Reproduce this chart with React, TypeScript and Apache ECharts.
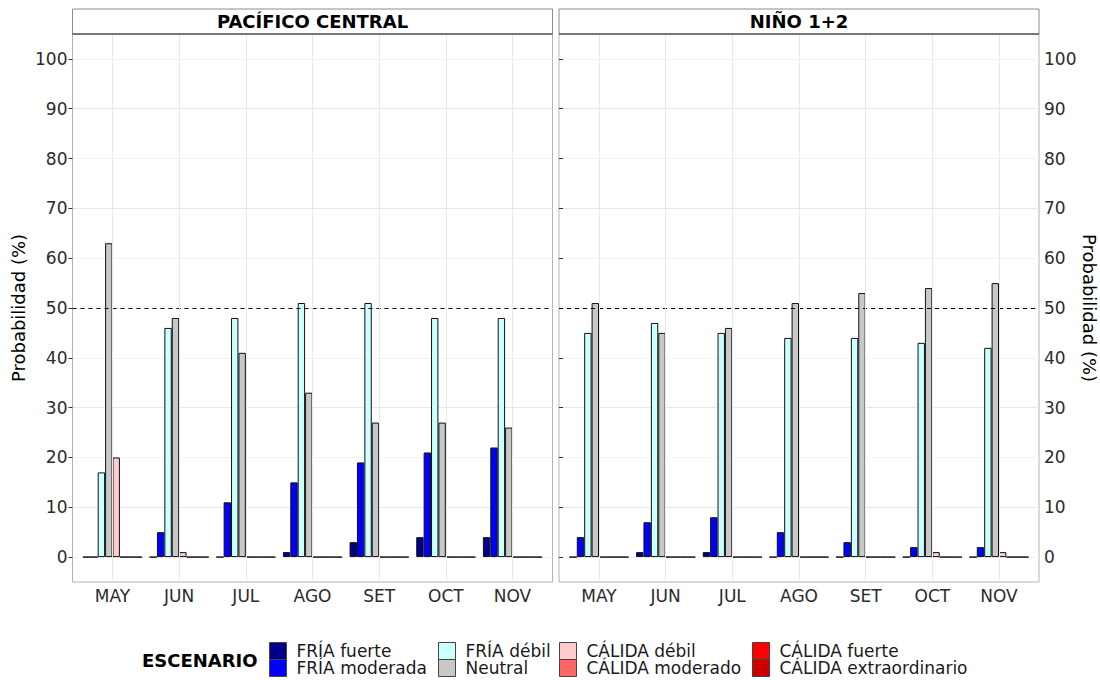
import React, { useEffect, useRef } from "react";
import * as echarts from "echarts";

const months = ["MAY", "JUN", "JUL", "AGO", "SET", "OCT", "NOV"];
const scenarios = [
  "FRÍA fuerte",
  "FRÍA moderada",
  "FRÍA débil",
  "Neutral",
  "CÁLIDA débil",
  "CÁLIDA moderado",
  "CÁLIDA fuerte",
  "CÁLIDA extraordinario",
];
const scenarioColors = ["#00008B", "#0000FF", "#CCFFFF", "#C8C8C8", "#FFCCCC", "#FF6666", "#FF0000", "#CC0000"];
const panelTitles = ["PACÍFICO CENTRAL", "NIÑO 1+2"];
const yTicks = [0, 10, 20, 30, 40, 50, 60, 70, 80, 90, 100];
const threshold = 50;

// PACÍFICO CENTRAL
const centralFriaFuerte = [0, 0, 0, 1, 3, 4, 4];
const centralFriaModerada = [0, 5, 11, 15, 19, 21, 22];
const centralFriaDebil = [17, 46, 48, 51, 51, 48, 48];
const centralNeutral = [63, 48, 41, 33, 27, 27, 26];
const centralCalidaDebil = [20, 1, 0, 0, 0, 0, 0];
const centralCalidaModerado = [0, 0, 0, 0, 0, 0, 0];
const centralCalidaFuerte = [0, 0, 0, 0, 0, 0, 0];
const centralCalidaExtra = [0, 0, 0, 0, 0, 0, 0];

// NIÑO 1+2
const ninoFriaFuerte = [0, 1, 1, 0, 0, 0, 0];
const ninoFriaModerada = [4, 7, 8, 5, 3, 2, 2];
const ninoFriaDebil = [45, 47, 45, 44, 44, 43, 42];
const ninoNeutral = [51, 45, 46, 51, 53, 54, 55];
const ninoCalidaDebil = [0, 0, 0, 0, 0, 1, 1];
const ninoCalidaModerado = [0, 0, 0, 0, 0, 0, 0];
const ninoCalidaFuerte = [0, 0, 0, 0, 0, 0, 0];
const ninoCalidaExtra = [0, 0, 0, 0, 0, 0, 0];

const centralData = [
  centralFriaFuerte, centralFriaModerada, centralFriaDebil, centralNeutral,
  centralCalidaDebil, centralCalidaModerado, centralCalidaFuerte, centralCalidaExtra,
];
const ninoData = [
  ninoFriaFuerte, ninoFriaModerada, ninoFriaDebil, ninoNeutral,
  ninoCalidaDebil, ninoCalidaModerado, ninoCalidaFuerte, ninoCalidaExtra,
];

const FONT = "DejaVu Sans";

export default function App() {
  const ref = useRef<HTMLDivElement>(null);
  useEffect(() => {
    if (!ref.current) return;
    const chart = echarts.init(ref.current, null, { renderer: "svg" });

    const panelTop = 34;
    const panelBottom = 582;
    const panels = [
      { left: 72.5, width: 480 },
      { left: 559, width: 480 },
    ];
    const grids: any[] = [];
    panels.forEach((p) => {
      const band = p.width / 7.2;
      grids.push({
        left: p.left, top: panelTop, width: p.width, height: panelBottom - panelTop,
        show: true, borderColor: "#b3b3b3", borderWidth: 1, backgroundColor: "#ffffff",
      });
      grids.push({
        left: p.left + band * 0.1, top: panelTop, width: band * 7, height: panelBottom - panelTop,
      });
    });

    const xAxis: any[] = [];
    const yAxis: any[] = [];
    [0, 1].forEach((pi) => {
      xAxis.push({ gridIndex: pi * 2, type: "value", min: 0, max: 1, show: false });
      xAxis.push({
        gridIndex: pi * 2 + 1, type: "category", data: months,
        axisLine: { show: false },
        axisTick: { show: true, alignWithLabel: true, length: 4, lineStyle: { color: "#333" } },
        axisLabel: { fontFamily: FONT, fontSize: 17, color: "#2b2b2b", margin: 5 },
        splitLine: { show: false },
      });
      const right = pi === 1;
      yAxis.push({
        gridIndex: pi * 2, type: "value", min: -5, max: 105, interval: 5,
        position: right ? "right" : "left",
        name: "Probabilidad (%)", nameLocation: "middle", nameGap: right ? 39 : 45,
        nameRotate: right ? -90 : 90,
        nameTextStyle: { fontFamily: FONT, fontSize: 18, color: "#000" },
        axisLine: { show: false },
        axisTick: { show: true, length: 4, lineStyle: { color: "#333" }, customValues: yTicks },
        axisLabel: {
          fontFamily: FONT, fontSize: 17, color: "#2b2b2b", margin: 5, customValues: yTicks,
          formatter: (v: number) => (v >= 0 && v % 10 === 0 ? String(v) : ""),
        },
        splitLine: { show: true, lineStyle: { color: ["#f3f3f3", "#e8e8e8"], width: 1 } },
      });
      yAxis.push({ gridIndex: pi * 2 + 1, type: "value", min: -5, max: 105, show: false, splitLine: { show: false } });
    });

    const series: any[] = [];
    [0, 1].forEach((pi) => {
      series.push({
        type: "line", xAxisIndex: pi * 2, yAxisIndex: pi * 2, data: [], z: 5, silent: true,
        markLine: {
          silent: true, symbol: "none", label: { show: false },
          lineStyle: { color: "#000", type: [4, 4], width: 1 },
          data: [{ yAxis: threshold }],
        },
      });
      series.push({
        type: "line", xAxisIndex: pi * 2 + 1, yAxisIndex: pi * 2 + 1, data: [], z: 0, silent: true,
        markLine: {
          silent: true, symbol: "none", label: { show: false },
          lineStyle: { color: "#e8e8e8", type: "solid", width: 1 },
          data: months.map((m) => ({ xAxis: m })),
        },
      });
      const src = pi === 0 ? centralData : ninoData;
      scenarios.forEach((s, si) => {
        series.push({
          type: "bar", name: s, xAxisIndex: pi * 2 + 1, yAxisIndex: pi * 2 + 1,
          data: src[si], barWidth: 7.4, barGap: "0%", z: 3,
          itemStyle: { color: scenarioColors[si], borderColor: "#111", borderWidth: 1 },
          emphasis: { disabled: true },
        });
      });
    });

    const colX = [269, 438, 559, 752];
    const rowY = [642, 659];
    const legend = scenarios.map((s, i) => ({
      orient: "horizontal", left: colX[Math.floor(i / 2)], top: rowY[i % 2], padding: 0,
      itemGap: 0, itemWidth: 17, itemHeight: 17,
      icon: "rect", data: [s], selectedMode: false,
      itemStyle: { borderColor: "#444", borderWidth: 1 },
      textStyle: { fontFamily: FONT, fontSize: 17, color: "#1a1a1a", lineHeight: 17, padding: [0, 0, 0, 5] },
    }));

    const graphic: any[] = [];
    panels.forEach((p, pi) => {
      graphic.push({
        type: "rect", shape: { x: p.left, y: 9, width: p.width, height: 25 },
        style: { fill: "#ffffff", stroke: "#8c8c8c", lineWidth: 1 }, z: 10,
      });
      graphic.push({
        type: "line", shape: { x1: p.left, y1: 34, x2: p.left + p.width, y2: 34 },
        style: { stroke: "#333", lineWidth: 1.2 }, z: 11,
      });
      graphic.push({
        type: "text", x: p.left + p.width / 2, y: 21.5, z: 12,
        style: {
          text: panelTitles[pi], fontFamily: FONT, fontWeight: "bold", fontSize: 18,
          fill: "#000", align: "center", verticalAlign: "middle",
        },
      });
    });
    graphic.push({
      type: "text", x: 142, y: 660, z: 12,
      style: {
        text: "ESCENARIO", fontFamily: FONT, fontWeight: "bold", fontSize: 18,
        fill: "#000", align: "left", verticalAlign: "middle",
      },
    });

    chart.setOption({
      animation: false,
      backgroundColor: "#ffffff",
      grid: grids,
      xAxis,
      yAxis,
      series,
      legend,
      graphic,
    });
    return () => chart.dispose();
  }, []);
  return <div ref={ref} style={{ position: "fixed", left: 0, top: 0, width: 1100, height: 680 }} />;
}
